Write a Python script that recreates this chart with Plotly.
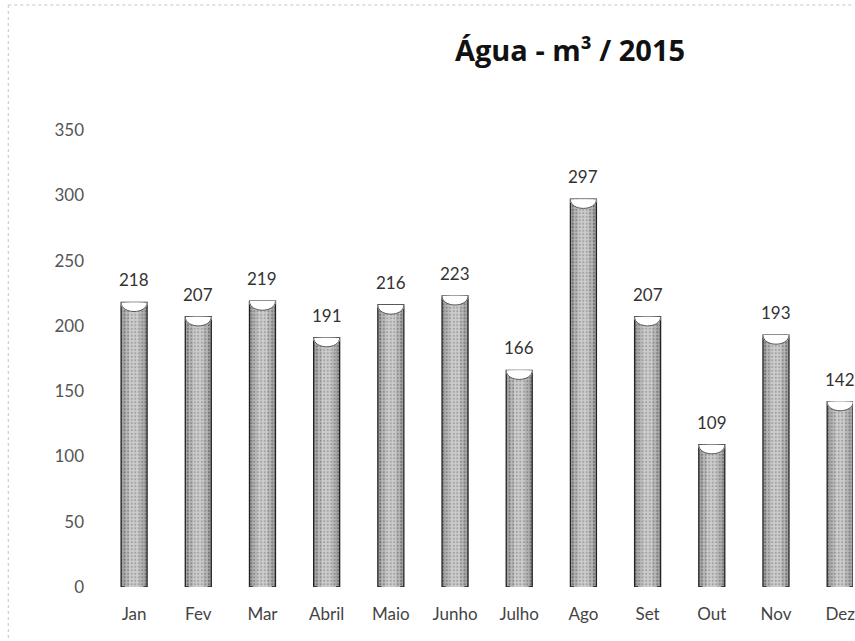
import plotly.graph_objects as go

months = ["Jan", "Fev", "Mar", "Abril", "Maio", "Junho", "Julho", "Ago", "Set", "Out", "Nov", "Dez"]
values = [218, 207, 219, 191, 216, 223, 166, 297, 207, 109, 193, 142]
y_ticks = [0, 50, 100, 150, 200, 250, 300, 350]

BAR_W = 0.405
FONT = "Lato, Open Sans, Liberation Sans"

fig = go.Figure()
# cylinder-like bars: three overlaid widths, darker at edges, lighter in the middle
layers = [
    (1.00, "#989898", "#3e3e3e", "#a4a4a4", dict(color="#222222", width=1.3)),
    (0.72, "#b0b0b0", "#5e5e5e", "#b8b8b8", dict(width=0)),
    (0.40, "#c6c6c6", "#777777", "#cccccc", dict(width=0)),
]
for frac, col, fg, bg, line in layers:
    fig.add_trace(go.Bar(
        x=months, y=values, width=BAR_W * frac,
        marker=dict(color=col, line=line,
                    pattern=dict(shape=".", fgcolor=fg, bgcolor=bg, size=3.5, solidity=0.3)),
        cliponaxis=True, hoverinfo="skip", showlegend=False,
    ))

# concave top notch of each bar (lower half of an ellipse cut out in white)
DIP = 7.0
k = 4.0 / 3.0
for i, v in enumerate(values):
    x0, x1 = i - BAR_W / 2 - 0.01, i + BAR_W / 2 + 0.01
    fig.add_shape(type="path", xref="x", yref="y",
                  path=f"M {x0},{v} C {x0},{v - k * DIP} {x1},{v - k * DIP} {x1},{v} Z",
                  fillcolor="white", line=dict(width=0), layer="above")
    fig.add_shape(type="path", xref="x", yref="y",
                  path=f"M {x0 + 0.01},{v} C {x0 + 0.01},{v - k * DIP} {x1 - 0.01},{v - k * DIP} {x1 - 0.01},{v}",
                  fillcolor="rgba(0,0,0,0)", line=dict(color="#555555", width=1), layer="above")

# value labels above the bars
for m, v in zip(months, values):
    fig.add_annotation(x=m, y=v, text=str(v), showarrow=False, yanchor="bottom", yshift=10,
                       font=dict(family=FONT, size=17, color="#333333"))

# dotted scan border (left and top)
fig.add_shape(type="line", xref="paper", yref="paper", x0=-0.1248, x1=1.0, y0=1.2383, y1=1.2383,
              line=dict(color="#c4c4c4", width=1, dash="dot"))
fig.add_shape(type="line", xref="paper", yref="paper", x0=-0.1248, x1=-0.1248, y0=1.2383, y1=-0.12,
              line=dict(color="#c4c4c4", width=1, dash="dot"))

fig.update_layout(
    width=855, height=641,
    margin=dict(l=102, r=0, t=117, b=54),
    paper_bgcolor="white", plot_bgcolor="white",
    barmode="overlay",
    title=dict(text="<b>Água - m³ / 2015</b>", x=570 / 855, xanchor="center",
               yref="container", y=1 - 51 / 641, yanchor="middle",
               font=dict(family="Open Sans, Liberation Sans", size=29, color="#111111")),
    xaxis=dict(range=[-0.5, 11.2], showgrid=False, showline=False, zeroline=False,
               ticks="", ticklabelstandoff=15,
               tickfont=dict(family=FONT, size=17, color="#444444")),
    yaxis=dict(range=[0, 360], tickvals=y_ticks, showgrid=False, showline=False, zeroline=False,
               ticks="", ticklabelstandoff=17,
               tickfont=dict(family=FONT, size=17, color="#555555")),
)

fig.write_html("out.html", config={"displayModeBar": False},
               post_script="document.body.style.margin='0';document.body.style.overflow='hidden';")
